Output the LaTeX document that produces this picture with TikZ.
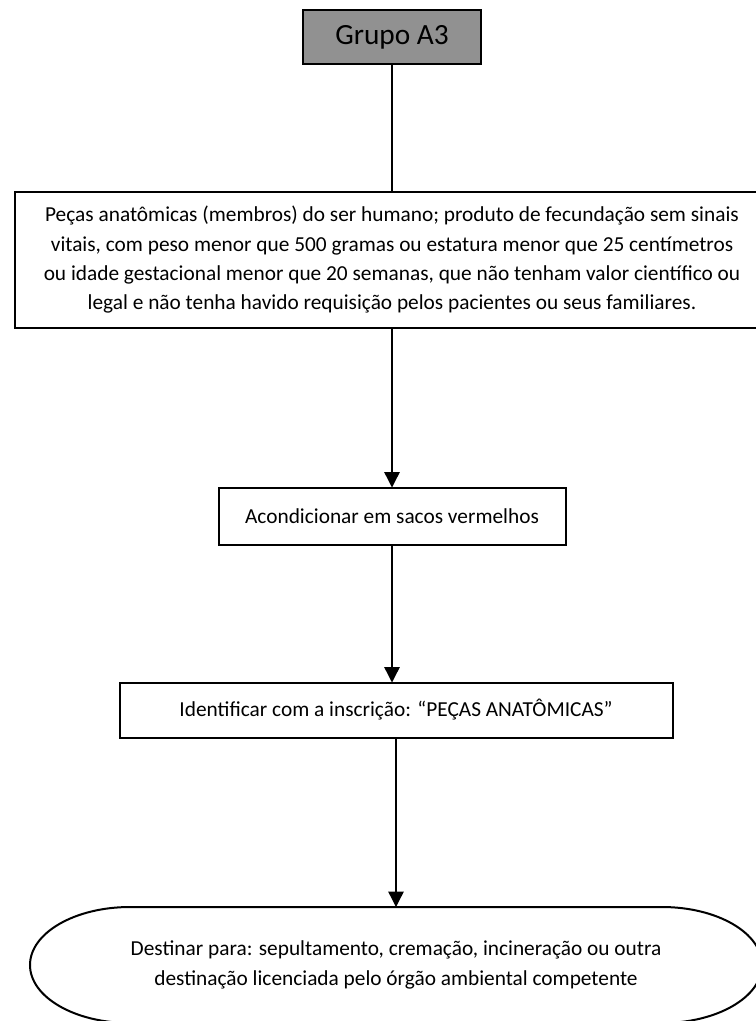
\documentclass[tikz,border=0pt]{standalone}
\usepackage{fontspec}
\setmainfont{Carlito}
\usetikzlibrary{arrows.meta,calc}
\definecolor{boxgray}{RGB}{145,145,145}
\tikzset{
  stepbox/.style={draw, line width=1.5pt, inner sep=0pt, outer sep=0pt, align=center,
    font=\fontsize{16}{22}\selectfont},
  conn/.style={line width=1pt},
  arr/.style={conn, -{Triangle[width=11.5pt,length=11.5pt]}}
}
\begin{document}
\begin{tikzpicture}[x=0.75pt,y=-0.75pt]
     \useasboundingbox (0,0) rectangle (756,1021);
     \clip (0,0) rectangle (756,1021);

     \node[stepbox, fill=boxgray, line width=1.1pt, minimum width=178*0.75pt, minimum height=54*0.75pt,
       font=\fontsize{22}{26}\selectfont] (grupo) at (392,37) {Grupo A3};

     \node[stepbox, line width=2.2pt, minimum width=754*0.75pt, minimum height=136*0.75pt] (pecas) at (392,260)
       {Peças anatômicas (membros) do ser humano; produto de fecundação sem sinais\\
        vitais, com peso menor que 500 gramas ou estatura menor que 25 centímetros\\
        ou idade gestacional menor que 20 semanas, que não tenham valor científico ou\\
        legal e não tenha havido requisição pelos pacientes ou seus familiares.};

     \node[stepbox, minimum width=347*0.75pt, minimum height=57*0.75pt] (acond) at (392,516)
       {Acondicionar em sacos vermelhos};

     \node[stepbox, minimum width=553*0.75pt, minimum height=55*0.75pt] (ident) at (396,710)
       {Identificar com a inscrição: “PEÇAS ANATÔMICAS”};

     \node[stepbox, draw=none, minimum width=732*0.75pt, minimum height=116*0.75pt] (dest) at (396,965)
       {Destinar para: sepultamento, cremação, incineração ou outra\\
        destinação licenciada pelo órgão ambiental competente};
     \draw[line width=1.5pt] ($(dest.north west)+(100,0)$) -- ($(dest.north east)+(-100,0)$)
       arc[start angle=90, end angle=-90, x radius=75pt, y radius=43.5pt]
       -- ($(dest.south west)+(100,0)$)
       arc[start angle=270, end angle=90, x radius=75pt, y radius=43.5pt] -- cycle;

     \draw[conn] (grupo.south) -- (grupo.south |- pecas.north);
     \draw[arr] (acond.north |- pecas.south) -- (acond.north);
     \draw[arr] (acond.south) -- (acond.south |- ident.north);
     \draw[arr] (dest.north |- ident.south) -- (dest.north);
    \end{tikzpicture}
\end{document}
